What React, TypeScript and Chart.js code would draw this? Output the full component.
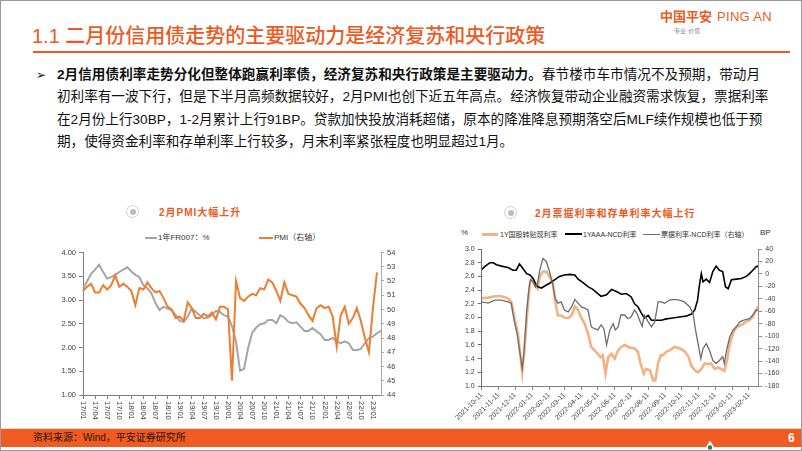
import React, { useEffect, useRef } from "react";
import { Chart, registerables } from "chart.js";
Chart.register(...registerables);

// ---------- Chart 1 data ----------
const monthLabels = [
  "17/01","17/02","17/03","17/04","17/05","17/06","17/07","17/08","17/09","17/10","17/11","17/12",
  "18/01","18/02","18/03","18/04","18/05","18/06","18/07","18/08","18/09","18/10","18/11","18/12",
  "19/01","19/02","19/03","19/04","19/05","19/06","19/07","19/08","19/09","19/10","19/11","19/12",
  "20/01","20/02","20/03","20/04","20/05","20/06","20/07","20/08","20/09","20/10","20/11","20/12",
  "21/01","21/02","21/03","21/04","21/05","21/06","21/07","21/08","21/09","21/10","21/11","21/12",
  "22/01","22/02","22/03","22/04","22/05","22/06","22/07","22/08","22/09","22/10","22/11","22/12",
  "23/01","23/02","23/03",
];
const fr007 = [
  3.24, 3.39, 3.55, 3.64, 3.74, 3.59, 3.45, 3.48, 3.53, 3.59, 3.64, 3.69,
  3.60, 3.53, 3.48, 3.31, 3.25, 3.14, 2.93, 2.79, 2.86, 2.82, 2.79, 2.68,
  2.56, 2.54, 2.65, 2.82, 2.75, 2.68, 2.61, 2.63, 2.68, 2.77, 2.75, 2.68,
  2.65, 2.45, 2.13, 1.51, 1.55, 1.99, 2.30, 2.42, 2.49, 2.51, 2.58, 2.58,
  2.51, 2.68, 2.63, 2.54, 2.51, 2.53, 2.44, 2.35, 2.35, 2.41, 2.34, 2.28,
  2.16, 2.16, 2.20, 2.13, 2.09, 2.13, 2.09, 1.95, 1.95, 1.97, 2.09, 2.20,
  2.23, 2.30, 2.35,
];
const pmi = [
  51.3, 51.6, 51.8, 51.2, 51.2, 51.7, 51.4, 51.7, 52.4, 51.6, 51.8, 51.6,
  51.3, 50.3, 51.5, 51.4, 51.9, 51.5, 51.2, 51.3, 50.8, 50.2, 50.0, 49.4,
  49.5, 49.2, 50.5, 50.1, 49.4, 49.4, 49.7, 49.5, 49.8, 49.3, 50.2, 50.2,
  50.0, 45.0, 52.0, 50.8, 50.6, 50.9, 51.1, 51.0, 51.5, 51.4, 52.1, 51.9,
  51.3, 50.6, 51.9, 51.1, 51.0, 50.9, 50.4, 50.1, 49.6, 49.2, 50.1, 50.3,
  50.1, 50.2, 49.5, 47.4, 49.6, 50.2, 49.0, 49.4, 50.1, 49.2, 48.0, 47.0,
  50.1, 52.6,
];

// ---------- Chart 2 data (day offset from START_DATE, value) ----------
const START_DATE = "2021-10-11";
const END_DAY = 505;
const dateTicks = [
  "2021-10-11","2021-11-11","2021-12-11","2022-01-11","2022-02-11","2022-03-11",
  "2022-04-11","2022-05-11","2022-06-11","2022-07-11","2022-08-11","2022-09-11",
  "2022-10-11","2022-11-11","2022-12-11","2023-01-11","2023-02-11",
];
const billRate: [number, number][] = [
  [0,2.28],[12,2.29],[24,2.31],[36,2.31],[48,2.28],[54,2.23],[60,1.99],[66,1.77],[71,1.42],[74,1.20],
  [78,1.52],[83,2.06],[88,2.50],[92,2.56],[97,2.47],[102,2.42],[106,2.60],[112,2.67],[118,2.67],[124,2.60],
  [130,2.50],[134,2.25],[139,2.03],[145,2.03],[151,2.00],[158,1.99],[164,2.03],[170,2.16],[176,2.11],[182,1.99],
  [188,1.91],[194,1.77],[200,1.57],[206,1.52],[212,1.47],[217,1.42],[221,1.45],[226,1.18],[231,1.42],[237,1.47],
  [243,1.40],[249,1.52],[255,1.57],[261,1.60],[270,1.56],[279,1.55],[285,1.50],[291,1.30],[296,1.18],[300,1.25],
  [307,1.23],[313,1.08],[317,1.08],[322,1.33],[327,1.45],[331,1.45],[337,1.50],[343,1.52],[352,1.57],[361,1.55],
  [370,1.51],[378,1.42],[383,1.29],[389,1.23],[395,1.20],[401,1.25],[407,1.33],[413,1.32],[419,1.33],[425,1.25],
  [431,1.27],[437,1.25],[443,1.22],[448,1.38],[453,1.62],[459,1.77],[465,1.86],[474,1.89],[483,1.94],[489,1.96],
  [495,2.01],[501,2.11],[505,2.16],
];
const ncdRate: [number, number][] = [
  [0,2.70],[5,2.74],[15,2.80],[21,2.80],[27,2.77],[36,2.75],[48,2.73],[57,2.69],[63,2.69],[69,2.78],
  [75,2.72],[82,2.64],[88,2.62],[94,2.57],[98,2.50],[102,2.45],[109,2.43],[115,2.46],[124,2.50],[133,2.55],
  [142,2.60],[151,2.62],[161,2.63],[170,2.62],[176,2.56],[185,2.51],[194,2.45],[203,2.41],[212,2.35],[218,2.31],
  [228,2.33],[237,2.41],[246,2.38],[255,2.34],[264,2.35],[273,2.30],[279,2.20],[285,2.16],[291,2.07],[297,1.99],
  [304,2.03],[310,1.96],[319,1.96],[328,1.96],[337,1.98],[346,1.99],[355,2.00],[364,2.01],[373,2.02],[383,2.05],
  [389,2.11],[394,2.25],[398,2.50],[401,2.64],[404,2.52],[410,2.56],[416,2.51],[422,2.67],[428,2.75],[434,2.69],
  [440,2.67],[445,2.45],[450,2.42],[456,2.55],[465,2.56],[474,2.57],[483,2.60],[489,2.64],[495,2.69],[501,2.74],
  [505,2.75],
];
const spreadBP: [number, number][] = [
  [0,-45],[12,-47],[24,-42],[36,-42],[48,-45],[54,-47],[59,-74],[65,-98],[70,-128],[74,-152],
  [77,-128],[82,-61],[86,-26],[89,-9],[94,-13],[98,-21],[102,-15],[106,6],[112,25],[118,20],
  [124,3],[130,-18],[134,-39],[139,-47],[145,-45],[151,-58],[158,-61],[164,-53],[170,-41],[176,-47],
  [182,-53],[188,-55],[194,-58],[200,-85],[206,-88],[212,-90],[218,-82],[223,-88],[228,-114],[234,-90],
  [240,-80],[244,-90],[249,-85],[254,-66],[261,-66],[267,-72],[273,-69],[279,-58],[284,-64],[288,-74],
  [293,-84],[297,-66],[304,-77],[310,-85],[316,-77],[322,-45],[328,-45],[334,-47],[343,-42],[352,-41],
  [361,-42],[370,-45],[380,-53],[386,-64],[390,-88],[395,-112],[400,-136],[404,-120],[410,-112],[416,-123],
  [422,-139],[428,-144],[434,-139],[440,-133],[443,-144],[447,-123],[453,-101],[459,-90],[465,-85],[471,-77],
  [480,-74],[489,-72],[495,-66],[501,-58],[505,-59],
];

const ORANGE = "#EC5A24";
const LATIN = "'Liberation Sans', Arial, 'Noto Sans CJK SC', sans-serif";
const TICK_COLOR = "#404040";

function dayOffset(d: string) {
  return Math.round((Date.parse(d) - Date.parse(START_DATE)) / 86400000);
}

const rotatedMonthLabels = {
  id: "rotatedMonthLabels",
  afterDraw(chart: any) {
    const xs = chart.scales.x;
    const ctx = chart.ctx;
    ctx.save();
    ctx.font = `7.5px ${LATIN}`;
    ctx.fillStyle = TICK_COLOR;
    ctx.textAlign = "left";
    ctx.textBaseline = "middle";
    xs.ticks.forEach((t: any) => {
      const x = xs.getPixelForValue(t.value);
      ctx.save();
      ctx.translate(x, xs.top + 6);
      ctx.rotate(Math.PI / 2);
      ctx.fillText(monthLabels[t.value], 0, 0);
      ctx.restore();
    });
    ctx.restore();
  },
};

function PmiChart() {
  const ref = useRef<HTMLCanvasElement>(null);
  useEffect(() => {
    const chart = new Chart(ref.current!, {
      type: "line",
      data: {
        labels: monthLabels,
        datasets: [
          { label: "PMI（右轴）", data: pmi, yAxisID: "y1", borderColor: "#ED7D31", borderWidth: 2, pointRadius: 0, tension: 0 },
          { label: "1年FR007：%", data: fr007, yAxisID: "y", borderColor: "#A5A5A5", borderWidth: 2, pointRadius: 0, tension: 0 },
        ],
      },
      options: {
        responsive: false,
        animation: false,
        devicePixelRatio: 1,
        layout: { padding: { top: 7, left: 0, right: 0, bottom: 0 } },
        plugins: { legend: { display: false }, tooltip: { enabled: false } },
        scales: {
          x: {
            type: "category",
            offset: false,
            grid: { display: true, drawOnChartArea: false, drawTicks: true, tickLength: 4, color: "#808080" },
            border: { display: true, color: "#808080" },
            ticks: { display: false, autoSkip: false },
            afterBuildTicks: (s: any) => { s.ticks = s.ticks.filter((t: any) => t.value % 3 === 0); },
            afterFit: (s: any) => { s.height = 30; },
          },
          y: {
            position: "left",
            min: 1, max: 4,
            ticks: { stepSize: 0.5, callback: (v: any) => Number(v).toFixed(2), font: { size: 7.5, family: LATIN }, color: TICK_COLOR, padding: 3 },
            grid: { drawOnChartArea: false, tickLength: 4, color: "#808080" },
            border: { color: "#808080" },
            afterFit: (s: any) => { s.width = 28; },
          },
          y1: {
            position: "right",
            min: 44, max: 54,
            ticks: { stepSize: 1, font: { size: 7.5, family: LATIN }, color: TICK_COLOR, padding: 3 },
            grid: { drawOnChartArea: false, tickLength: 3, color: "#A8A8A8" },
            border: { color: "#A8A8A8" },
            afterFit: (s: any) => { s.width = 19; },
          },
        },
      },
      plugins: [rotatedMonthLabels],
    } as any);
    return () => chart.destroy();
  }, []);
  return <canvas ref={ref} width={345} height={180} style={{ width: 345, height: 180, display: "block" }} />;
}

function BillChart() {
  const ref = useRef<HTMLCanvasElement>(null);
  useEffect(() => {
    const tickDays = dateTicks.map(dayOffset);
    const toXY = (arr: [number, number][]) => arr.map(([x, y]) => ({ x, y }));
    const chart = new Chart(ref.current!, {
      type: "line",
      data: {
        datasets: [
          { label: "票据利率-NCD利率（右轴）", data: toXY(spreadBP), yAxisID: "y1", borderColor: "#6E6E6E", borderWidth: 1.3, pointRadius: 0, tension: 0 },
          { label: "1YAAA-NCD利率", data: toXY(ncdRate), yAxisID: "y", borderColor: "#000000", borderWidth: 1.6, pointRadius: 0, tension: 0 },
          { label: "1Y国股转贴现利率", data: toXY(billRate), yAxisID: "y", borderColor: "#F4B183", borderWidth: 2.6, pointRadius: 0, tension: 0 },
        ],
      },
      options: {
        responsive: false,
        animation: false,
        devicePixelRatio: 1,
        layout: { padding: { top: 9, left: 0, right: 0, bottom: 0 } },
        plugins: { legend: { display: false }, tooltip: { enabled: false } },
        scales: {
          x: {
            type: "linear",
            min: 0, max: END_DAY,
            grid: { display: true, drawOnChartArea: false, drawTicks: true, tickLength: 4, color: "#808080" },
            border: { display: true, color: "#808080" },
            afterBuildTicks: (s: any) => { s.ticks = tickDays.map((v) => ({ value: v })); },
            ticks: {
              autoSkip: false, minRotation: 45, maxRotation: 45, padding: 1,
              font: { size: 7, family: LATIN }, color: TICK_COLOR,
              callback: (_v: any, i: number) => dateTicks[i],
            },
            afterFit: (s: any) => { s.height = 41; },
          },
          y: {
            position: "left",
            min: 1, max: 3,
            ticks: { stepSize: 0.2, callback: (v: any) => Number(v).toFixed(1), font: { size: 7, family: LATIN }, color: TICK_COLOR, padding: 3 },
            grid: { drawOnChartArea: false, tickLength: 4, color: "#707070" },
            border: { color: "#707070" },
            afterFit: (s: any) => { s.width = 41.7; },
          },
          y1: {
            position: "right",
            min: -180, max: 40,
            ticks: { stepSize: 20, font: { size: 7, family: LATIN }, color: TICK_COLOR, padding: 3 },
            grid: { drawOnChartArea: false, tickLength: 4, color: "#909090" },
            border: { color: "#909090" },
            afterFit: (s: any) => { s.width = 31.7; },
          },
        },
      },
    } as any);
    return () => chart.destroy();
  }, []);
  return <canvas ref={ref} width={350} height={187} style={{ width: 350, height: 187, display: "block" }} />;
}

const abs = (left: number, top: number, extra: React.CSSProperties = {}): React.CSSProperties => ({
  position: "absolute", left, top, whiteSpace: "nowrap", ...extra,
});

function Icon({ left, top }: { left: number; top: number }) {
  return (
    <div style={abs(left, top, { width: 11, height: 11, borderRadius: "50%", border: "1.5px solid #cfcfcf", background: "#fff" })}>
      <div style={{ position: "absolute", left: 2.5, top: 2.5, width: 6, height: 6, borderRadius: "50%", background: "#bcbcbc" }} />
    </div>
  );
}

export default function App() {
  useEffect(() => {
    document.body.style.margin = "0";
  }, []);
  const textLine: React.CSSProperties = { height: 22.3, lineHeight: "22.3px", textAlign: "justify", textAlignLast: "justify" as any, whiteSpace: "nowrap" };
  return (
    <div style={{ position: "absolute", left: 0, top: 0, width: 802, height: 451, background: "#fff", overflow: "hidden", fontFamily: LATIN, color: "#111" }}>
      {/* slide border */}
      <div style={{ position: "absolute", left: 0, top: 0, width: 802, height: 451, boxSizing: "border-box", border: "1px solid #9a9a9a", pointerEvents: "none", zIndex: 5 }} />

      {/* logo */}
      <div style={abs(660, 9, { color: ORANGE, fontSize: 13, fontWeight: "bold", lineHeight: "16px" })}>
        中国平安<span style={{ fontFamily: LATIN, fontWeight: "normal", marginLeft: 5, letterSpacing: 0.3 }}>PING AN</span>
      </div>
      <div style={abs(674, 27, { color: "#8a8a8a", fontSize: 6, lineHeight: "8px" })}>专业·价值</div>

      {/* title */}
      <div style={abs(32, 25, { color: ORANGE, fontSize: 20, lineHeight: "22px", fontWeight: 500 })}>
        1.1 二月份信用债走势的主要驱动力是经济复苏和央行政策
      </div>
      <div style={abs(33, 51, { width: 757, height: 2, background: ORANGE })} />

      {/* bullet text */}
      <div style={abs(36, 64, { fontSize: 12, lineHeight: "22.3px", color: "#222" })}>➢</div>
      <div style={abs(57, 64, { width: 703, fontSize: 13.6, color: "#111", whiteSpace: "normal" })}>
        <div style={textLine}>
          <b>2月信用债利率走势分化但整体跑赢利率债，经济复苏和央行政策是主要驱动力。</b>春节楼市车市情况不及预期，带动月
        </div>
        <div style={textLine}>初利率有一波下行，但是下半月高频数据较好，2月PMI也创下近五年高点。经济恢复带动企业融资需求恢复，票据利率</div>
        <div style={textLine}>在2月份上行30BP，1-2月累计上行91BP。贷款加快投放消耗超储，原本的降准降息预期落空后MLF续作规模也低于预</div>
        <div style={{ ...textLine, textAlign: "left", textAlignLast: "left" as any }}>期，使得资金利率和存单利率上行较多，月末利率紧张程度也明显超过1月。</div>
      </div>

      {/* chart 1 header + legend */}
      <Icon left={126} top={205} />
      <div style={abs(159, 206, { color: ORANGE, fontSize: 10, fontWeight: "bold", letterSpacing: 1, lineHeight: "14px" })}>2月PMI大幅上升</div>
      <div style={abs(145, 237, { width: 12, height: 1.8, background: "#A5A5A5" })} />
      <div style={abs(158, 232, { fontSize: 8, lineHeight: "11px", color: "#333" })}>1年FR007：%</div>
      <div style={abs(259, 237, { width: 14, height: 2, background: "#ED7D31" })} />
      <div style={abs(274, 232, { fontSize: 8, lineHeight: "11px", color: "#333" })}>PMI（右轴）</div>
      <div style={abs(55, 245)}>
        <PmiChart />
      </div>

      {/* chart 2 header + legend */}
      <Icon left={504} top={206} />
      <div style={abs(535, 207, { color: ORANGE, fontSize: 10, fontWeight: "bold", letterSpacing: 1, lineHeight: "14px" })}>2月票据利率和存单利率大幅上行</div>
      <div style={abs(461, 228, { fontSize: 8, lineHeight: "10px", color: "#333" })}>%</div>
      <div style={abs(482, 233, { width: 16, height: 2.5, background: "#F4B183" })} />
      <div style={abs(500, 229.5, { fontSize: 7, lineHeight: "9px", color: "#333" })}>1Y国股转贴现利率</div>
      <div style={abs(565, 233, { width: 17, height: 2, background: "#000" })} />
      <div style={abs(583, 229.5, { fontSize: 7, lineHeight: "9px", color: "#333" })}>1YAAA-NCD利率</div>
      <div style={abs(643, 233.5, { width: 17, height: 1.3, background: "#6E6E6E" })} />
      <div style={abs(661, 229.5, { fontSize: 7, lineHeight: "9px", color: "#333" })}>票据利率-NCD利率（右轴）</div>
      <div style={abs(760, 228, { fontSize: 8, lineHeight: "10px", color: "#333" })}>BP</div>
      <div style={abs(440, 240)}>
        <BillChart />
      </div>

      {/* footer */}
      <div style={abs(0, 428, { width: 802, height: 1, background: "#F9D3BE" })} />
      <div style={abs(0, 429, { width: 802, height: 18, background: "#F05A23" })} />
      <div style={abs(33, 431, { fontSize: 10, lineHeight: "14px", color: "#2a1608" })}>资料来源：Wind，平安证券研究所</div>
      <div style={abs(788, 430, { fontSize: 12, lineHeight: "16px", color: "#fff", fontWeight: "bold" })}>6</div>
      <svg style={{ position: "absolute", left: 703, top: 440 }} width={14} height={11} viewBox="0 0 14 11">
        <polygon points="7,0.5 13.5,11 0.5,11" fill="#fff" />
        <circle cx={7} cy={7.5} r={2.3} fill="#1f8a4c" />
      </svg>
    </div>
  );
}
